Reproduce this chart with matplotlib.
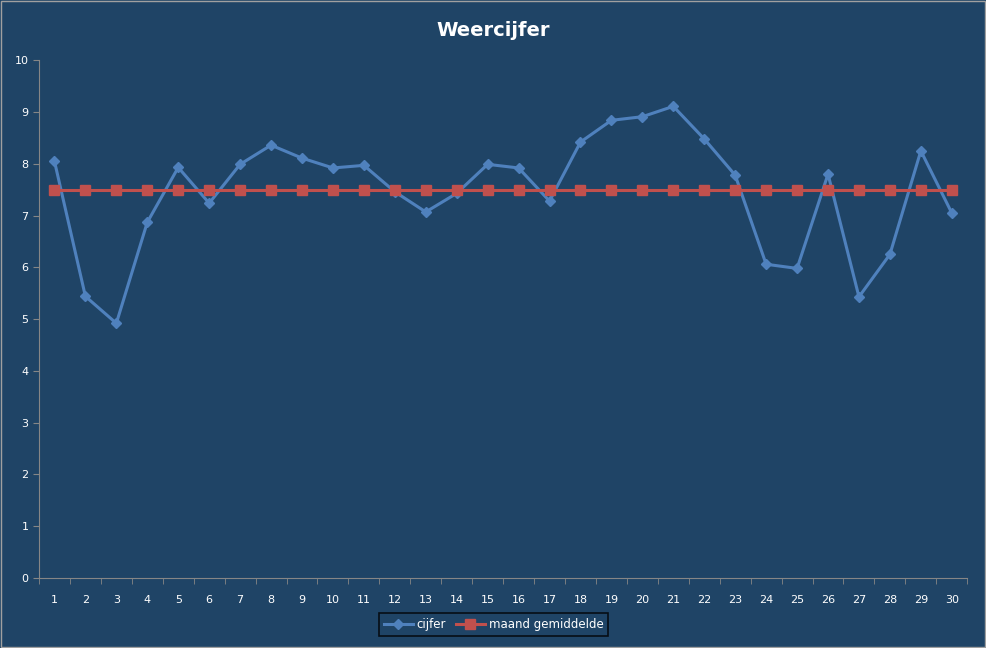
import numpy as np
import matplotlib.pyplot as plt
from matplotlib.patches import Rectangle

days = list(range(1, 31))
cijfer = [8.05, 5.44, 4.92, 6.87, 7.93, 7.24, 7.99, 8.36, 8.11, 7.92,
          7.97, 7.46, 7.07, 7.43, 7.99, 7.92, 7.28, 8.42, 8.84, 8.91,
          9.11, 8.48, 7.78, 6.06, 5.98, 7.80, 5.43, 6.25, 8.25, 7.05]
gemiddelde = [7.5] * 30

bg = '#1F4466'
fig = plt.figure(figsize=(9.87, 6.48), dpi=100, facecolor=bg)
fig.patches.append(Rectangle((0.001, 0.001), 0.997, 0.997, transform=fig.transFigure,
                             fill=False, edgecolor='#A0A0A0', linewidth=1.0))
ax = fig.add_axes([0.0395, 0.108, 0.9405, 0.799])
ax.set_facecolor(bg)

ax.plot(days, cijfer, color='#4F81BD', linewidth=2.2, marker='D', markersize=5,
        label='cijfer')
ax.plot(days, gemiddelde, color='#C0504D', linewidth=2.2, marker='s', markersize=6.5,
        label='maand gemiddelde')

ax.set_xlim(0.5, 30.5)
ax.set_ylim(0, 10)
ax.set_yticks(range(0, 11))
ax.set_xticks(days)
ax.set_xticks(np.arange(0.5, 31, 1), minor=True)
ax.tick_params(axis='x', which='major', length=0, pad=12, colors='white', labelsize=8)
ax.tick_params(axis='x', which='minor', length=4, color='#868686', direction='out')
ax.tick_params(axis='y', length=4, color='#868686', colors='white', labelsize=8)
for side in ['top', 'right']:
    ax.spines[side].set_visible(False)
for side in ['left', 'bottom']:
    ax.spines[side].set_color('#868686')

fig.text(0.5, 0.953, 'Weercijfer', ha='center', va='center', color='white',
         fontsize=14, fontweight='bold')

leg = fig.legend(loc='center', bbox_to_anchor=(0.5, 0.036), ncol=2, frameon=True,
                 fontsize=8.5, handlelength=2.5, columnspacing=0.8, handletextpad=0.3,
                 borderpad=0.4, fancybox=False)
leg.get_frame().set_facecolor(bg)
leg.get_frame().set_edgecolor('black')
leg.get_frame().set_linewidth(1.2)
for t in leg.get_texts():
    t.set_color('white')

fig.savefig('out.png', dpi=100, facecolor=bg)
